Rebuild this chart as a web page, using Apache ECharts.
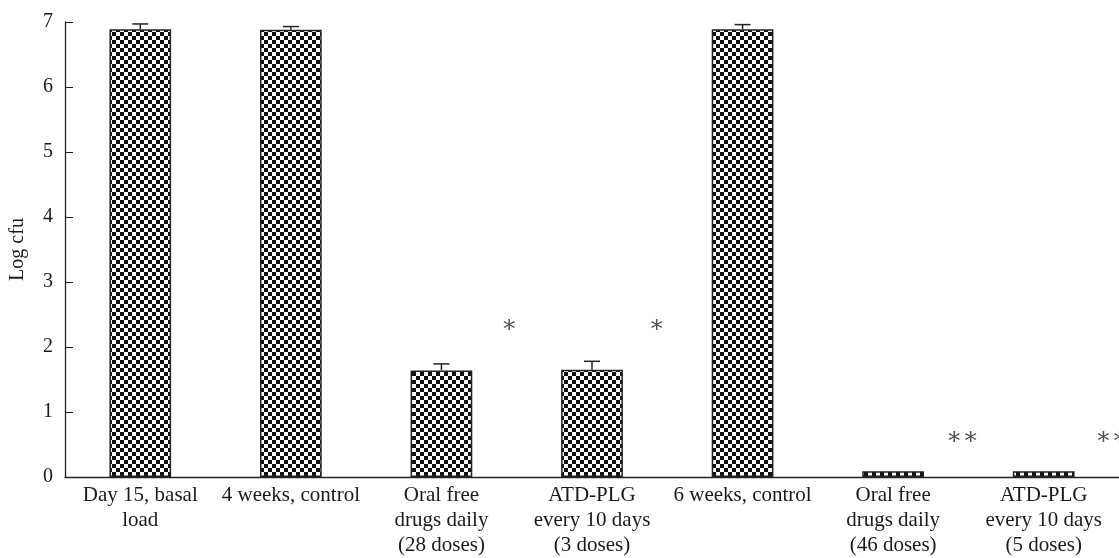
<!DOCTYPE html>
<html>
<head>
<meta charset="utf-8">
<script src="https://cdn.jsdelivr.net/npm/echarts@6/dist/echarts.min.js"></script>
<style>
  html, body { margin: 0; padding: 0; background: #fff; }
  #chart { width: 1119px; height: 558px; }
</style>
</head>
<body>
<div id="chart"></div>
<script>
// data
const categories = [
    'Day 15, basal\nload',
    '4 weeks, control',
    'Oral free\ndrugs daily\n(28 doses)',
    'ATD-PLG\nevery 10 days\n(3 doses)',
    '6 weeks, control',
    'Oral free\ndrugs daily\n(46 doses)',
    'ATD-PLG\nevery 10 days\n(5 doses)'
];
const logCfu = [6.89, 6.88, 1.64, 1.65, 6.89, 0.09, 0.09];
const errUp = [0.08, 0.05, 0.10, 0.13, 0.07, 0, 0];

// significance marks (x in category units from the left edge)
const starX = [2.95, 3.93, 5.96, 6.95];
const starY = [2.33, 2.33, 0.6, 0.6];
const starText = ['∗', '∗', '∗∗', '∗∗'];

const serif = '"Liberation Serif", "DejaVu Serif", serif';

// checkerboard fill like the printed bars
function checker() {
    const c = document.createElement('canvas');
    c.width = 8; c.height = 8;
    const g = c.getContext('2d');
    g.fillStyle = '#fff';
    g.fillRect(0, 0, 8, 8);
    g.fillStyle = '#111';
    g.fillRect(0, 0, 4, 4);
    g.fillRect(4, 4, 4, 4);
    return c;
}

const chart = echarts.init(document.getElementById('chart'));

chart.setOption({
    backgroundColor: '#fff',
    animation: false,
    grid: { left: 57, right: 0, top: 22, bottom: 79, containLabel: false },
    xAxis: [
        {
            type: 'category',
            data: categories,
            axisLine: { lineStyle: { color: '#222', width: 1.3 } },
            axisTick: { inside: true, length: 7, lineStyle: { color: '#222' } },
            axisLabel: {
                fontFamily: serif, fontSize: 21, color: '#1a1a1a',
                lineHeight: 25, margin: 6, interval: 0
            }
        },
        { type: 'value', min: 0, max: 7, show: false }
    ],
    yAxis: {
        type: 'value',
        min: 0, max: 7, interval: 1,
        name: 'Log cfu',
        nameLocation: 'middle',
        nameRotate: 90,
        nameGap: 37,
        nameTextStyle: { fontFamily: serif, fontSize: 20, color: '#1a1a1a' },
        axisLine: { show: true, lineStyle: { color: '#222', width: 1.3 } },
        axisTick: { show: true, inside: true, length: 8, lineStyle: { color: '#222' } },
        axisLabel: { fontFamily: serif, fontSize: 20, color: '#1a1a1a', margin: 12 },
        splitLine: { show: false }
    },
    series: [
        {
            type: 'bar',
            data: logCfu,
            barWidth: '41%',
            itemStyle: {
                color: { image: checker(), repeat: 'repeat' },
                borderColor: '#222',
                borderWidth: 1.5
            }
        },
        {
            type: 'custom',
            data: logCfu.map((v, i) => [i, v, errUp[i]]),
            z: 5,
            renderItem: function (params, api) {
                const i = api.value(0), v = api.value(1), e = api.value(2);
                if (!e) return null;
                const base = api.coord([i, v]);
                const top = api.coord([i, v + e]);
                const style = { stroke: '#222', lineWidth: 1.5 };
                return {
                    type: 'group',
                    children: [
                        { type: 'line', shape: { x1: base[0], y1: base[1], x2: top[0], y2: top[1] }, style: style },
                        { type: 'line', shape: { x1: top[0] - 8, y1: top[1], x2: top[0] + 8, y2: top[1] }, style: style }
                    ]
                };
            }
        },
        {
            type: 'scatter',
            xAxisIndex: 1,
            symbolSize: 0,
            data: starX.map((x, i) => ({ value: [x, starY[i]], name: starText[i] })),
            label: {
                show: true, position: 'inside', formatter: '{b}',
                fontFamily: serif, fontSize: 24, color: '#222'
            }
        }
    ]
});
</script>
</body>
</html>
